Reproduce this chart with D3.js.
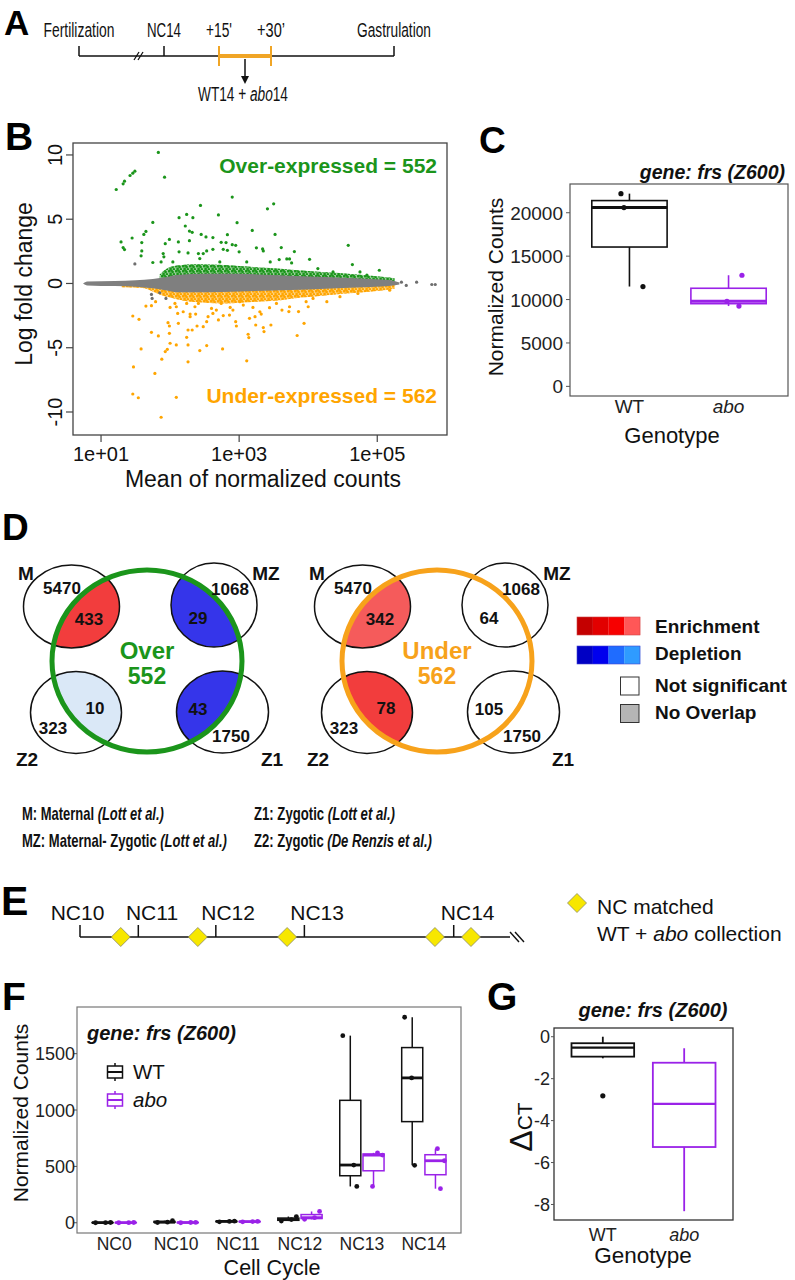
<!DOCTYPE html>
<html><head><meta charset="utf-8">
<script src="https://cdn.jsdelivr.net/npm/d3@7"></script>
<style>body{margin:0;background:#fff}svg{display:block}</style>
</head><body><svg id="fig" width="795" height="1280"></svg>
<script>
// ======================= DATA =======================
// Panel A: schematic timeline (arbitrary time units)
const aEvents = ["Fertilization", "NC14", "+15'", "+30’", "Gastrulation"];
const aTimes = [0, 4.25, 7.0, 9.6, 15.75];
const aBreakTime = 3.0;
const aCollectTime = 8.3;
const aCollectLabel = ["WT14 + ", "abo", "14"];

// Panel B: MA plot (log10 mean of normalized counts, log fold change)
const maGreyX = [0.74, 0.8, 1.2, 1.5, 1.75, 1.95, 2.1, 2.5, 3.0, 3.5, 4.0, 4.5, 4.9, 5.2, 5.32];
const maGreyUp = [0.0, 0.15, 0.2, 0.25, 0.35, 0.5, 0.65, 0.75, 0.75, 0.65, 0.55, 0.45, 0.35, 0.25, 0.08];
const maGreyLo = [0.0, -0.15, -0.2, -0.25, -0.38, -0.55, -0.68, -0.68, -0.62, -0.55, -0.47, -0.35, -0.28, -0.18, -0.08];
const maGreenX = [1.85, 1.95, 2.1, 2.4, 2.7, 3.0, 3.3, 3.6, 3.9, 4.2, 4.5, 4.8, 5.1, 5.25];
const maGreenUp = [0.7, 1.15, 1.4, 1.5, 1.45, 1.35, 1.25, 1.15, 1.0, 0.9, 0.8, 0.65, 0.5, 0.4];
const maOrangeX = [1.3, 1.6, 1.85, 2.0, 2.2, 2.5, 2.8, 3.0, 3.3, 3.6, 3.9, 4.2, 4.5, 4.8, 5.1, 5.25];
const maOrangeLo = [-0.3, -0.35, -0.85, -1.1, -1.35, -1.5, -1.55, -1.5, -1.4, -1.3, -1.1, -0.95, -0.8, -0.68, -0.52, -0.42];
const overLogMean = [1.22,1.32,1.34,1.42,1.46,1.49,1.83,1.92,2.90,3.41,3.50,2.44,2.24,2.13,2.33,2.70,1.75,2.97,1.65,1.62,1.59,1.45,1.29,1.32,1.34,2.22,2.28,2.32,2.45,2.52,2.62,2.83,3.19,3.52,2.28,1.99,1.93,2.12,1.59,1.58,2.74,2.81,2.90,2.95,3.00,2.62,2.77,2.83,2.13,2.26,2.41,2.48,2.53,3.25,3.34,3.35,3.61,3.80,4.58,3.58,3.69,3.73,4.02,4.64,5.03,1.90,1.75,1.87,1.91,2.04,2.43,2.72,3.11,3.45,3.76,4.14,4.36,4.75,4.85];
const overLFC = [7.31,7.75,7.96,8.40,8.58,8.74,10.2,8.27,6.72,5.81,6.20,6.07,5.37,5.12,5.12,5.33,4.75,4.73,4.05,3.82,3.18,3.54,3.23,2.79,2.64,4.47,4.08,3.98,3.82,3.62,3.57,3.80,4.13,3.82,3.33,3.43,3.10,3.23,2.53,2.15,3.20,3.18,3.02,2.97,2.46,2.66,2.66,2.58,2.46,2.38,2.33,2.33,2.53,2.77,2.69,2.53,2.79,2.48,2.97,1.86,1.91,1.91,1.88,1.47,1.03,2.33,1.63,1.68,2.07,1.68,1.94,1.68,1.68,1.68,1.60,1.16,0.90,0.90,0.65];
const underLogMean = [1.46,1.55,1.65,1.73,1.79,1.73,1.83,1.58,1.47,1.78,1.46,1.54,2.09,1.87,1.88,1.93,1.96,2.00,2.09,2.26,2.26,2.43,2.53,2.76,3.11,2.24,2.32,2.26,1.99,1.99,1.97,2.12,2.11,2.39,2.48,2.53,2.55,2.29,2.37,2.29,2.70,2.77,2.86,2.62,2.95,2.96,3.13,3.14,3.24,3.35,3.36,3.46,3.84,3.94,3.15,3.23,3.32,3.44,3.62,3.72,3.86,4.00,2.09,2.24,2.36,2.67,2.87,3.01,3.20,4.27,4.46,4.72,5.18,2.00,2.07,2.19,2.41,2.60,2.74,2.91,3.06,3.30,3.54,3.73,3.97,4.07];
const underLFC = [-2.53,-2.79,-1.76,-1.73,-1.42,-3.80,-4.08,-5.09,-6.49,-7.00,-8.60,-8.89,-8.86,-10.41,-5.89,-5.30,-5.12,-4.65,-4.78,-4.78,-6.10,-5.22,-4.83,-5.09,-6.02,-4.19,-3.62,-3.62,-3.88,-3.31,-3.05,-3.10,-2.33,-3.31,-3.36,-2.97,-2.58,-2.38,-2.38,-2.58,-2.84,-2.50,-2.46,-2.33,-2.97,-3.31,-3.95,-4.21,-3.23,-3.43,-3.74,-3.23,-4.05,-3.10,-2.71,-2.58,-2.38,-1.88,-2.07,-2.19,-2.19,-1.81,-1.81,-1.55,-1.81,-2.07,-1.86,-1.42,-1.86,-1.42,-1.03,-0.78,-0.52,-1.86,-1.55,-2.20,-1.55,-1.94,-1.55,-2.07,-1.68,-2.20,-1.55,-1.81,-1.42,-1.16];
const greyLogMean = [1.49, 1.73, 1.85, 1.74, 1.94, 5.35, 5.42, 5.57, 5.79, 5.84];
const greyLFC = [1.52, -0.85, -0.72, -1.16, -1.16, 0.10, -0.15, 0.10, -0.08, -0.08];
const maYTicks = [-10, -5, 0, 5, 10];
const maXTicks = [1e1, 1e3, 1e5];
const maXTickLabels = ["1e+01", "1e+03", "1e+05"];
const overCount = 552, underCount = 562;

// Panel C: frs normalized counts (replicates)
const genotypes = ["WT", "abo"];
const cWT = [22200, 20600, 11500];
const cAbo = [12800, 9800, 9250];
const cTicks = [0, 5000, 10000, 15000, 20000];

// Panel D: Venn overlaps
const vennSets = ["M", "MZ", "Z2", "Z1"];
const vennSetSizes = [5470, 1068, 323, 1750];
const overOverlap = [433, 29, 10, 43];
const overSignif = ["enrich", "deplete", "depleteWeak", "deplete"];
const underOverlap = [342, 64, 78, 105];
const underSignif = ["enrichMid", "ns", "enrich", "ns"];
const legendEnrich = ["#c40000", "#e20000", "#f70000", "#ff5757"];
const legendDeplete = ["#0000c4", "#0000ee", "#1f6cff", "#2f9bff"];
const legendItems = ["Enrichment", "Depletion", "Not significant", "No Overlap"];
const setKey = [
  ["M: Maternal ", "(Lott et al.)"],
  ["MZ: Maternal- Zygotic ", "(Lott et al.)"],
  ["Z1: Zygotic ", "(Lott et al.)"],
  ["Z2: Zygotic ", "(De Renzis et al.)"]
];

// Panel E: nuclear cycle timeline (arbitrary units)
const eLabels = ["NC10", "NC11", "NC12", "NC13", "NC14"];
const eTimes = [0, 7.77, 18.1, 29.9, 49.8];
const eCollect = [5.43, 15.7, 27.6, 47.3, 52.1];
const eEnd = 57.3;

// Panel F: normalized counts by cell cycle (replicates)
const fCycles = ["NC0", "NC10", "NC11", "NC12", "NC13", "NC14"];
const fWT = [[0, 1, 2], [2, 5, 18], [8, 12, 14], [15, 28, 55], [322, 512, 1660], [509, 1285, 1823]];
const fAbo = [[0, 1, 2], [0, 2, 3], [8, 10, 12], [30, 45, 100], [322, 600, 620], [302, 550, 657]];
const fTicks = [0, 500, 1000, 1500];

// Panel G: delta CT box statistics [min, q1, median, q3, max]
const gStats = [[-1.03, -0.95, -0.52, -0.31, 0.0], [-8.32, -5.26, -3.20, -1.24, -0.55]];
const gOutliers = [[-2.82], []];
const gTicks = [-8, -6, -4, -2, 0];

// ======================= STYLE / HELPERS =======================
const FONT = '"Liberation Sans", Arial, Helvetica, sans-serif';
const NARROW = '"Liberation Sans Narrow", "Arial Narrow", "Liberation Sans", sans-serif';
const GREEN = "#1b951b", ORANGE = "#ffa500", GREY = "#7f7f7f", PURPLE = "#9a22e8";
const svg = d3.select("#fig");

function T(g, x, y, s, o = {}) {
  const host = o.width ? g.append("g") : g;
  const t = host.append("text").attr("x", o.width ? 0 : x).attr("y", o.width ? 0 : y)
    .style("font-family", o.family || FONT).style("font-size", (o.size || 16) + "px")
    .style("font-weight", o.weight || "normal").style("font-style", o.italic ? "italic" : "normal")
    .attr("fill", o.fill || "#111").attr("text-anchor", o.anchor || "start");
  if (Array.isArray(s)) {
    s.forEach(seg => t.append("tspan").text(seg[0]).style("font-style", seg[1] ? "italic" : "normal"));
  } else t.text(s);
  if (o.width) {
    const nat = t.node().getComputedTextLength();
    const sx = nat > 0 ? Math.min(1, o.width / nat) : 1;
    host.attr("transform", `translate(${x},${y}) scale(${sx},1)`);
  }
  if (o.rotate) t.attr("transform", `rotate(${o.rotate},${x},${y})`);
  return t;
}
function boxStats(vals) {
  const s = vals.slice().sort(d3.ascending);
  const q1 = d3.quantile(s, 0.25), med = d3.quantile(s, 0.5), q3 = d3.quantile(s, 0.75);
  const iqr = q3 - q1;
  const inside = s.filter(v => v >= q1 - 1.5 * iqr && v <= q3 + 1.5 * iqr);
  return { min: d3.min(inside), q1, med, q3, max: d3.max(inside) };
}
function drawBox(g, cx, w, st, color, y, sw = 1.6, mw = 3) {
  g.append("line").attr("x1", cx).attr("x2", cx).attr("y1", y(st.max)).attr("y2", y(st.q3)).attr("stroke", color).attr("stroke-width", sw);
  g.append("line").attr("x1", cx).attr("x2", cx).attr("y1", y(st.q1)).attr("y2", y(st.min)).attr("stroke", color).attr("stroke-width", sw);
  g.append("rect").attr("x", cx - w / 2).attr("y", y(st.q3)).attr("width", w).attr("height", Math.max(0, y(st.q1) - y(st.q3)))
    .attr("fill", "white").attr("stroke", color).attr("stroke-width", sw);
  g.append("line").attr("x1", cx - w / 2).attr("x2", cx + w / 2).attr("y1", y(st.med)).attr("y2", y(st.med)).attr("stroke", color).attr("stroke-width", mw);
}
function letter(s, x, y, size) { T(svg, x, y, s, { size, weight: "bold", fill: "#000" }); }

// speckle patterns for the dense MA-plot clouds
const defs = svg.append("defs");
[["speckG", GREEN], ["speckO", ORANGE]].forEach(([id, col]) => {
  const pt = defs.append("pattern").attr("id", id).attr("patternUnits", "userSpaceOnUse").attr("width", 7).attr("height", 5);
  [[1.2, 1.2], [4.6, 2.0], [2.6, 3.9], [6.0, 4.4], [3.5, 0.4]].forEach(c => pt.append("circle").attr("cx", c[0]).attr("cy", c[1]).attr("r", 1.35).attr("fill", col));
});

// ======================= PANEL A =======================
(function () {
  const g = svg.append("g");
  const x = d3.scaleLinear().domain([0, 1]).range([79, 99]);
  const ly = 56;
  g.append("line").attr("x1", x(aTimes[0])).attr("x2", x(aTimes[4])).attr("y1", ly).attr("y2", ly).attr("stroke", "#111").attr("stroke-width", 1.6);
  [0, 1, 4].forEach(i => g.append("line").attr("x1", x(aTimes[i])).attr("x2", x(aTimes[i])).attr("y1", ly - 10).attr("y2", ly).attr("stroke", "#111").attr("stroke-width", 1.5));
  [-2, 2].forEach(d => g.append("line").attr("x1", x(aBreakTime) + d - 3).attr("x2", x(aBreakTime) + d + 2).attr("y1", ly + 4).attr("y2", ly - 4).attr("stroke", "#111").attr("stroke-width", 1.3));
  g.append("line").attr("x1", x(aTimes[2])).attr("x2", x(aTimes[3])).attr("y1", ly).attr("y2", ly).attr("stroke", "#f0a526").attr("stroke-width", 4);
  [2, 3].forEach(i => g.append("line").attr("x1", x(aTimes[i])).attr("x2", x(aTimes[i])).attr("y1", ly - 10).attr("y2", ly + 10).attr("stroke", "#f0a526").attr("stroke-width", 2));
  const aWidths = [71, 34, 26, 28, 74];
  aEvents.forEach((e, i) => T(g, x(aTimes[i]), 37, e, { family: NARROW, size: 19.5, anchor: "middle", width: aWidths[i] }));
  const ax = x(aCollectTime);
  g.append("line").attr("x1", ax).attr("x2", ax).attr("y1", ly + 3).attr("y2", ly + 22).attr("stroke", "#111").attr("stroke-width", 1.5);
  g.append("path").attr("d", `M${ax - 4},${ly + 20}L${ax + 4},${ly + 20}L${ax},${ly + 28}Z`).attr("fill", "#111");
  T(g, ax - 2, 101, [[aCollectLabel[0], false], [aCollectLabel[1], true], [aCollectLabel[2], false]], { family: NARROW, size: 19.5, anchor: "middle", width: 90 });
  letter("A", 4, 35, 35);
})();

// ======================= PANEL B =======================
(function () {
  const g = svg.append("g");
  const L = { x0: 73, y0: 143, x1: 447, y1: 435 };
  const bx = d3.scaleLog().domain([Math.pow(10, 0.594), Math.pow(10, 6.01)]).range([L.x0, L.x1]);
  const by = d3.scaleLinear().domain([-11.79, 10.93]).range([L.y1, L.y0]);
  const X = v => bx(Math.pow(10, v));
  g.append("clipPath").attr("id", "clipB").append("rect").attr("x", L.x0).attr("y", L.y0).attr("width", L.x1 - L.x0).attr("height", L.y1 - L.y0);
  const p = g.append("g").attr("clip-path", "url(#clipB)");
  const area = (xs, lo, hi) => d3.area().x((d, i) => X(xs[i])).y0((d, i) => by(lo[i])).y1((d, i) => by(hi[i])).curve(d3.curveMonotoneX)(xs);
  const gPath = area(maGreenX, maGreenX.map(() => 0), maGreenUp);
  const oPath = area(maOrangeX, maOrangeX.map(() => 0), maOrangeLo);
  p.append("path").attr("d", gPath).attr("fill", GREEN).attr("opacity", 0.45);
  p.append("path").attr("d", gPath).attr("fill", "url(#speckG)");
  p.append("path").attr("d", oPath).attr("fill", ORANGE).attr("opacity", 0.5);
  p.append("path").attr("d", oPath).attr("fill", "url(#speckO)");
  p.append("path").attr("d", area(maGreyX, maGreyLo, maGreyUp)).attr("fill", GREY);
  greyLogMean.forEach((v, i) => p.append("circle").attr("cx", X(v)).attr("cy", by(greyLFC[i])).attr("r", 1.6).attr("fill", "#6e6e6e"));
  overLogMean.forEach((v, i) => p.append("circle").attr("cx", X(v)).attr("cy", by(overLFC[i])).attr("r", 1.6).attr("fill", GREEN));
  underLogMean.forEach((v, i) => p.append("circle").attr("cx", X(v)).attr("cy", by(underLFC[i])).attr("r", 1.6).attr("fill", ORANGE));
  g.append("rect").attr("x", L.x0).attr("y", L.y0).attr("width", L.x1 - L.x0).attr("height", L.y1 - L.y0).attr("fill", "none").attr("stroke", "#444").attr("stroke-width", 1.3);
  maYTicks.forEach(t => {
    g.append("line").attr("x1", L.x0 - 7).attr("x2", L.x0).attr("y1", by(t)).attr("y2", by(t)).attr("stroke", "#444").attr("stroke-width", 1.2);
    T(g, 62, by(t), String(t), { size: 20, anchor: "middle", rotate: -90, fill: "#111" });
  });
  maXTicks.forEach((t, i) => {
    g.append("line").attr("x1", bx(t)).attr("x2", bx(t)).attr("y1", L.y1).attr("y2", L.y1 + 7).attr("stroke", "#444").attr("stroke-width", 1.2);
    T(g, bx(t), 461, maXTickLabels[i], { size: 20, anchor: "middle" });
  });
  T(g, (L.x0 + L.x1) / 2 + 3, 487, "Mean of normalized counts", { size: 23, anchor: "middle" });
  T(g, 32, 284, "Log fold change", { size: 23, anchor: "middle", rotate: -90 });
  T(g, 437, 173, "Over-expressed = " + overCount, { size: 21, weight: "bold", anchor: "end", fill: GREEN });
  T(g, 437, 403, "Under-expressed = " + underCount, { size: 21, weight: "bold", anchor: "end", fill: ORANGE });
  letter("B", 5, 150, 39);
})();

// ======================= PANEL C =======================
(function () {
  const g = svg.append("g");
  const L = { x0: 570, y0: 184, x1: 788, y1: 396 };
  const cx = d3.scalePoint().domain(genotypes).range([L.x0, L.x1]).padding(0.6);
  const cy = d3.scaleLinear().domain([-1110, 23310]).range([L.y1, L.y0]);
  const step = cx.step();
  const groups = [cWT, cAbo], cols = ["#111", PURPLE];
  const jitter = [[-8.5, -5.5, 13.5], [13.4, -1.6, 10.4]];
  groups.forEach((vals, gi) => {
    const st = boxStats(vals);
    drawBox(g, cx(genotypes[gi]), step * 0.76, st, cols[gi], cy);
    vals.forEach((v, k) => g.append("circle").attr("cx", cx(genotypes[gi]) + jitter[gi][k]).attr("cy", cy(v)).attr("r", 2.6).attr("fill", cols[gi]));
  });
  g.append("rect").attr("x", L.x0).attr("y", L.y0).attr("width", L.x1 - L.x0).attr("height", L.y1 - L.y0).attr("fill", "none").attr("stroke", "#555").attr("stroke-width", 1.2);
  cTicks.forEach(t => {
    g.append("line").attr("x1", L.x0 - 4).attr("x2", L.x0).attr("y1", cy(t)).attr("y2", cy(t)).attr("stroke", "#555");
    T(g, 563, cy(t) + 7, String(t), { size: 19, anchor: "end", fill: "#222" });
  });
  genotypes.forEach((gn, i) => T(g, cx(gn), 413, gn, { size: 19, anchor: "middle", italic: i === 1, fill: "#222" }));
  T(g, 672, 443, "Genotype", { size: 22, anchor: "middle" });
  T(g, 503, 287, "Normalized Counts", { size: 21, anchor: "middle", rotate: -90 });
  T(g, 785, 179, "gene: frs (Z600)", { size: 19.5, weight: "bold", italic: true, anchor: "end" });
  letter("C", 479, 153, 37);
})();

// ======================= PANEL D =======================
(function () {
  const g = svg.append("g");
  const fillOf = { enrich: "#f23d3d", enrichMid: "#f55b5b", deplete: "#3535ea", depleteWeak: "#dae8f7", ns: null };
  const small = [[71.5, 606.5, 48, 41.5], [214, 605, 43, 42], [76, 712.5, 45.5, 41], [222.5, 712, 46, 41]];
  const big = [147, 661, 95, 91];
  const numPos = [[89, 625], [198, 624], [95, 714], [198, 715]];
  const sizePos = [[62, 594], [230, 595], [53, 734], [231, 742]];
  const namePos = [[26, 580], [266, 580], [27, 766], [272, 766]];
  const diagrams = [
    { dx: 0, bdx: 0, ov: overOverlap, sig: overSignif, color: GREEN, title: "Over", n: overCount },
    { dx: 291, bdx: 290, ov: underOverlap, sig: underSignif, color: "#f7a21b", title: "Under", n: underCount }
  ];
  diagrams.forEach((d, di) => {
    const gg = g.append("g");
    const cid = "bigclip" + di;
    gg.append("clipPath").attr("id", cid).append("ellipse").attr("cx", big[0] + d.bdx).attr("cy", big[1]).attr("rx", big[2]).attr("ry", big[3]);
    vennSets.forEach((s, i) => {
      const c = small[i];
      const f = fillOf[d.sig[i]];
      if (f) gg.append("ellipse").attr("cx", c[0] + d.dx).attr("cy", c[1]).attr("rx", c[2]).attr("ry", c[3]).attr("fill", f).attr("clip-path", `url(#${cid})`);
    });
    vennSets.forEach((s, i) => {
      const c = small[i];
      gg.append("ellipse").attr("cx", c[0] + d.dx).attr("cy", c[1]).attr("rx", c[2]).attr("ry", c[3]).attr("fill", "none").attr("stroke", "#111").attr("stroke-width", 1.5);
    });
    gg.append("ellipse").attr("cx", big[0] + d.bdx).attr("cy", big[1]).attr("rx", big[2]).attr("ry", big[3]).attr("fill", "none").attr("stroke", d.color).attr("stroke-width", 5);
    vennSets.forEach((s, i) => {
      T(gg, numPos[i][0] + d.dx, numPos[i][1], String(d.ov[i]), { size: 17, weight: "bold", anchor: "middle" });
      T(gg, sizePos[i][0] + d.dx, sizePos[i][1], String(vennSetSizes[i]), { size: 17, weight: "bold", anchor: "middle" });
      T(gg, namePos[i][0] + d.dx, namePos[i][1], s, { size: 19, weight: "bold", anchor: "middle" });
    });
    T(gg, big[0] + d.bdx, 659, d.title, { size: 24, weight: "bold", anchor: "middle", fill: d.color });
    T(gg, big[0] + d.bdx, 684, String(d.n), { size: 23, weight: "bold", anchor: "middle", fill: d.color });
  });
  // legend
  const lg = g.append("g");
  legendEnrich.forEach((c, i) => lg.append("rect").attr("x", 577 + i * 15.75).attr("y", 617).attr("width", 15.9).attr("height", 18).attr("fill", c));
  legendDeplete.forEach((c, i) => lg.append("rect").attr("x", 577 + i * 15.75).attr("y", 646).attr("width", 15.9).attr("height", 18).attr("fill", c));
  lg.append("rect").attr("x", 577).attr("y", 617).attr("width", 63).attr("height", 18).attr("fill", "none").attr("stroke", "#c44").attr("stroke-width", 0.6);
  lg.append("rect").attr("x", 577).attr("y", 646).attr("width", 63).attr("height", 18).attr("fill", "none").attr("stroke", "#44c").attr("stroke-width", 0.6);
  lg.append("rect").attr("x", 620.5).attr("y", 677).attr("width", 18.5).attr("height", 18).attr("fill", "white").attr("stroke", "#333").attr("stroke-width", 1);
  lg.append("rect").attr("x", 620.5).attr("y", 704.5).attr("width", 18.5).attr("height", 18).attr("fill", "#b5b5b5").attr("stroke", "#333").attr("stroke-width", 1);
  const ly = [633, 660, 692, 719];
  legendItems.forEach((s, i) => T(lg, 655, ly[i], s, { size: 19, weight: "bold" }));
  // set key text
  const kx = [22, 22, 254, 254], kyy = [820, 847, 820, 847], kw = [142, 205, 141, 178];
  setKey.forEach((k, i) => T(g, kx[i], kyy[i], [[k[0], false], [k[1], true]], { family: NARROW, size: 17.5, weight: "bold", width: kw[i] }));
  letter("D", 2, 540, 37);
})();

// ======================= PANEL E =======================
(function () {
  const g = svg.append("g");
  const x = d3.scaleLinear().domain([0, eEnd]).range([80, 510]);
  const ly = 937;
  g.append("line").attr("x1", x(0)).attr("x2", x(eEnd)).attr("y1", ly).attr("y2", ly).attr("stroke", "#111").attr("stroke-width", 1.6);
  [0, 5].forEach(d => g.append("line").attr("x1", x(eEnd) + d).attr("x2", x(eEnd) + d + 9).attr("y1", ly - 5).attr("y2", ly + 5).attr("stroke", "#111").attr("stroke-width", 1.4));
  const labOff = [-2.5, 13.7, 12.3, 12.7, 14];
  eTimes.forEach((t, i) => {
    g.append("line").attr("x1", x(t)).attr("x2", x(t)).attr("y1", ly - 12).attr("y2", ly).attr("stroke", "#111").attr("stroke-width", 1.5);
    T(g, x(t) + labOff[i], 920, eLabels[i], { size: 21, anchor: "middle" });
  });
  const dia = (cx, cy, h) => `M${cx},${cy - h}L${cx + h},${cy}L${cx},${cy + h}L${cx - h},${cy}Z`;
  eCollect.forEach(t => g.append("path").attr("d", dia(x(t), ly, 9.5)).attr("fill", "#f7e700").attr("stroke", "#8a8a6a").attr("stroke-width", 0.8));
  g.append("path").attr("d", dia(577, 903, 9.5)).attr("fill", "#f7e700").attr("stroke", "#8a8a6a").attr("stroke-width", 0.8);
  T(g, 597, 914, "NC matched", { size: 21 });
  T(g, 597, 941, [["WT + ", false], ["abo", true], [" collection", false]], { size: 21 });
  letter("E", 1, 915, 41);
})();

// ======================= PANEL F =======================
(function () {
  const g = svg.append("g");
  const L = { x0: 77, y0: 1007, x1: 461, y1: 1233 };
  const fx = d3.scalePoint().domain(fCycles).range([L.x0, L.x1]).padding(0.6);
  const fy = d3.scaleLinear().domain([-91, 1914]).range([L.y1, L.y0]);
  const step = fx.step();
  const off = step * 0.1875, bw = step * 0.34;
  // horizontal jitter (px) for replicates in ascending order
  const jitWT = [[-7, 3, 8], [-7, 3, 8], [-7, 3, 8], [-7, 3, 8], [6.5, 3.5, -7.5], [2.4, -0.6, -7.6]];
  const jitAbo = [[-7, 3, 8], [-7, 3, 8], [-7, 3, 8], [-7, 3, 8], [-1, 9, 4], [5, 9, 2]];
  fCycles.forEach((c, i) => {
    [[fWT[i], "#111", -off, jitWT[i]], [fAbo[i], PURPLE, off, jitAbo[i]]].forEach(d => {
      const cx = fx(c) + d[2];
      drawBox(g, cx, bw, boxStats(d[0]), d[1], fy, 1.5, 2.8);
      d[0].slice().sort(d3.ascending).forEach((v, j) =>
        g.append("circle").attr("cx", cx + d[3][j]).attr("cy", fy(v)).attr("r", 2.4).attr("fill", d[1]));
    });
  });
  g.append("rect").attr("x", L.x0).attr("y", L.y0).attr("width", L.x1 - L.x0).attr("height", L.y1 - L.y0).attr("fill", "none").attr("stroke", "#777").attr("stroke-width", 1.2);
  fTicks.forEach(t => {
    g.append("line").attr("x1", L.x0 - 3).attr("x2", L.x0).attr("y1", fy(t)).attr("y2", fy(t)).attr("stroke", "#555");
    T(g, 75, fy(t) + 6.5, String(t), { size: 18, anchor: "end", fill: "#222" });
  });
  fCycles.forEach(c => T(g, fx(c), 1250, c, { size: 17.5, anchor: "middle", fill: "#222" }));
  T(g, 272, 1275, "Cell Cycle", { size: 21.5, anchor: "middle" });
  T(g, 28, 1113, "Normalized Counts", { size: 21, anchor: "middle", rotate: -90 });
  T(g, 87, 1040, "gene: frs (Z600)", { size: 20, weight: "bold", italic: true });
  const key = (cx, cy, col) => {
    g.append("line").attr("x1", cx).attr("x2", cx).attr("y1", cy - 9).attr("y2", cy + 9).attr("stroke", col).attr("stroke-width", 1.5);
    g.append("rect").attr("x", cx - 7.5).attr("y", cy - 6).attr("width", 15).attr("height", 12).attr("fill", "white").attr("stroke", col).attr("stroke-width", 1.5);
    g.append("line").attr("x1", cx - 7.5).attr("x2", cx + 7.5).attr("y1", cy).attr("y2", cy).attr("stroke", col).attr("stroke-width", 2);
  };
  key(115, 1072, "#111"); key(115, 1100, PURPLE);
  T(g, 133, 1079, genotypes[0], { size: 20.5 });
  T(g, 133, 1107, genotypes[1], { size: 20.5, italic: true });
  letter("F", 2, 1010, 39);
})();

// ======================= PANEL G =======================
(function () {
  const g = svg.append("g");
  const L = { x0: 554, y0: 1028, x1: 733, y1: 1220 };
  const gx = d3.scalePoint().domain(genotypes).range([L.x0, L.x1]).padding(0.6);
  const gy = d3.scaleLinear().domain([-8.74, 0.416]).range([L.y1, L.y0]);
  const cols = ["#111", PURPLE];
  gStats.forEach((s, i) => {
    drawBox(g, gx(genotypes[i]), gx.step() * 0.77, { min: s[0], q1: s[1], med: s[2], q3: s[3], max: s[4] }, cols[i], gy, 1.8, 2.2);
    gOutliers[i].forEach(v => g.append("circle").attr("cx", gx(genotypes[i])).attr("cy", gy(v)).attr("r", 2.6).attr("fill", cols[i]));
  });
  g.append("rect").attr("x", L.x0).attr("y", L.y0).attr("width", L.x1 - L.x0).attr("height", L.y1 - L.y0).attr("fill", "none").attr("stroke", "#333").attr("stroke-width", 1.3);
  gTicks.forEach(t => {
    g.append("line").attr("x1", L.x0 - 3).attr("x2", L.x0).attr("y1", gy(t)).attr("y2", gy(t)).attr("stroke", "#555");
    T(g, 550, gy(t) + 6.5, String(t), { size: 18, anchor: "end", fill: "#222" });
  });
  genotypes.forEach((gn, i) => T(g, gx(gn), 1241, gn, { size: 18, anchor: "middle", italic: i === 1, fill: "#222" }));
  T(g, 643, 1263, "Genotype", { size: 22.5, anchor: "middle" });
  const yl = T(g, 532, 1127, "", { size: 22, anchor: "middle", rotate: -90 });
  yl.append("tspan").text("Δ").style("font-size", "32px");
  yl.append("tspan").text("CT").style("font-size", "21px");
  T(g, 653, 1017, "gene: frs (Z600)", { size: 20, weight: "bold", italic: true, anchor: "middle" });
  letter("G", 487, 1010, 39);
})();
</script></body></html>
